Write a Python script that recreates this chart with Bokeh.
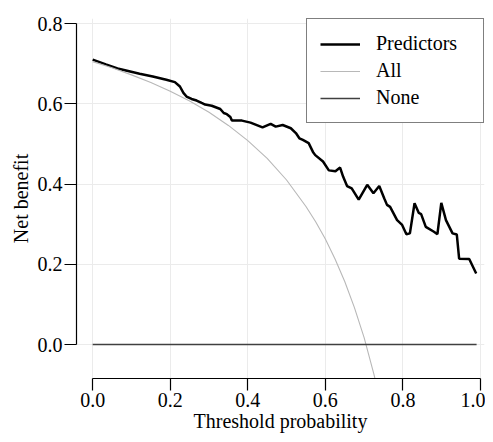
from bokeh.plotting import figure
from bokeh.models import FixedTicker, PrintfTickFormatter, Range1d, Legend, LegendItem
from bokeh.embed import file_html
from bokeh.resources import INLINE

# Predictors curve (threshold, net benefit)
pred_thr = [0.000, 0.034, 0.064, 0.086, 0.121, 0.155, 0.190, 0.212, 0.225, 0.234,
            0.242, 0.255, 0.268, 0.281, 0.290, 0.307, 0.329, 0.338, 0.346, 0.355,
            0.359, 0.385, 0.407, 0.438, 0.459, 0.472, 0.490, 0.511, 0.524, 0.533,
            0.542, 0.557, 0.568, 0.574, 0.594, 0.609, 0.626, 0.638, 0.646, 0.656,
            0.668, 0.686, 0.708, 0.724, 0.739, 0.752, 0.759, 0.767, 0.785, 0.798,
            0.809, 0.818, 0.830, 0.841, 0.847, 0.859, 0.880, 0.889, 0.899, 0.911,
            0.928, 0.939, 0.945, 0.971, 0.989]
pred_nb = [0.710, 0.698, 0.688, 0.683, 0.675, 0.668, 0.660, 0.654, 0.643, 0.627,
           0.618, 0.612, 0.608, 0.602, 0.598, 0.595, 0.587, 0.577, 0.574, 0.567,
           0.558, 0.558, 0.553, 0.541, 0.550, 0.543, 0.547, 0.539, 0.527, 0.514,
           0.510, 0.502, 0.480, 0.472, 0.456, 0.434, 0.432, 0.441, 0.418, 0.395,
           0.389, 0.361, 0.398, 0.377, 0.395, 0.364, 0.348, 0.343, 0.310, 0.298,
           0.275, 0.277, 0.352, 0.328, 0.325, 0.293, 0.281, 0.275, 0.353, 0.310,
           0.277, 0.274, 0.214, 0.213, 0.177]

# "All" curve
all_thr = [0.00, 0.05, 0.10, 0.15, 0.20, 0.25, 0.30, 0.35, 0.40, 0.45, 0.50,
           0.55, 0.575, 0.60, 0.625, 0.65, 0.675, 0.70, 0.725, 0.73]
all_nb = [0.705, 0.690, 0.672, 0.653, 0.631, 0.607, 0.579, 0.546, 0.508, 0.464,
          0.410, 0.344, 0.306, 0.263, 0.213, 0.157, 0.092, 0.017, -0.073, -0.093]

# "None" line
none_thr = [0.0, 0.99]
none_nb = [0.0, 0.0]

x_ticks = [0.0, 0.2, 0.4, 0.6, 0.8, 1.0]
y_ticks = [0.0, 0.2, 0.4, 0.6, 0.8]

FONT = "Liberation Serif"
FS = "20px"

p = figure(width=485, height=434, output_backend="svg", toolbar_location=None,
           x_range=Range1d(-0.0417, 1.0104), y_range=Range1d(-0.0847, 0.8125),
           min_border_left=76, min_border_top=18, min_border_right=1, min_border_bottom=10)
p.outline_line_color = None
p.background_fill_color = "white"

r_pred = p.line(pred_thr, pred_nb, line_color="black", line_width=2.5)
r_all = p.line(all_thr, all_nb, line_color="#b8b8b8", line_width=1.1)
r_none = p.line(none_thr, none_nb, line_color="#404040", line_width=1.5)

for ax, ticks in ((p.xaxis[0], x_ticks), (p.yaxis[0], y_ticks)):
    ax.ticker = FixedTicker(ticks=ticks)
    ax.formatter = PrintfTickFormatter(format="%.1f")
    ax.bounds = (ticks[0], ticks[-1])
    ax.major_tick_out = 12
    ax.major_tick_in = 0
    ax.minor_tick_out = 0
    ax.minor_tick_in = 0
    ax.axis_line_color = "black"
    ax.axis_line_width = 1.2
    ax.major_tick_line_color = "black"
    ax.major_tick_line_width = 1.2
    ax.major_label_text_font = FONT
    ax.major_label_text_font_size = FS
    ax.major_label_text_color = "black"
    ax.axis_label_text_font = FONT
    ax.axis_label_text_font_size = FS
    ax.axis_label_text_font_style = "normal"
    ax.axis_label_text_color = "black"

p.xaxis.major_label_standoff = 2
p.yaxis.major_label_standoff = 2
p.xaxis.axis_label = "Threshold probability"
p.yaxis.axis_label = "Net benefit"
p.xaxis.axis_label_standoff = 0
p.yaxis.axis_label_standoff = 3

p.xgrid.ticker = FixedTicker(ticks=x_ticks)
p.ygrid.ticker = FixedTicker(ticks=y_ticks)
p.grid.grid_line_color = "#ebebeb"
p.grid.grid_line_width = 1

legend = Legend(items=[LegendItem(label="Predictors", renderers=[r_pred]),
                       LegendItem(label="All", renderers=[r_all]),
                       LegendItem(label="None", renderers=[r_none])],
                location="top_right")
legend.margin = 0
legend.padding = 13
legend.spacing = 4
legend.glyph_width = 40
legend.glyph_height = 20
legend.label_height = 20
legend.label_width = 94
legend.label_standoff = 16
legend.label_text_font = FONT
legend.label_text_font_size = FS
legend.label_text_color = "black"
legend.border_line_color = "black"
legend.border_line_width = 1.2
legend.background_fill_color = "white"
legend.background_fill_alpha = 1.0
p.add_layout(legend)

open("out.html", "w").write(file_html(p, INLINE))
